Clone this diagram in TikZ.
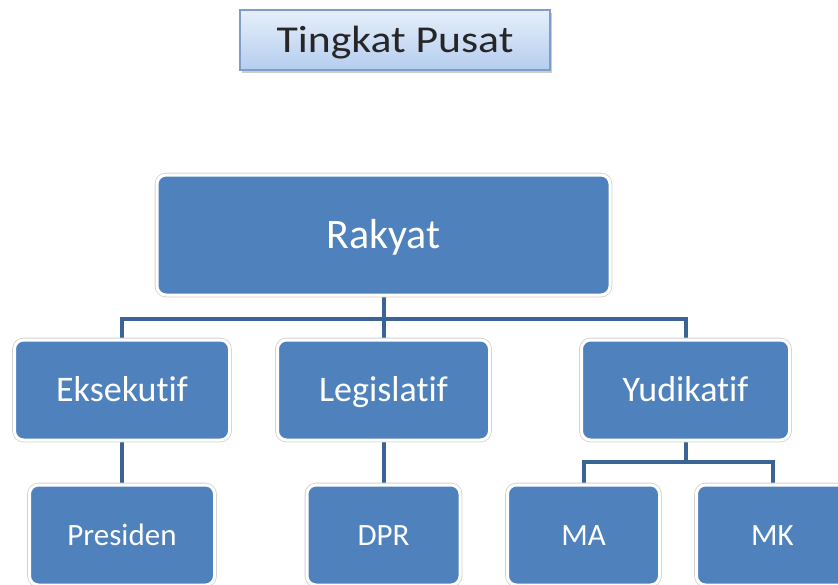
\documentclass[tikz,border=0pt]{standalone}
\usepackage{fontspec}
\setmainfont{Carlito}[Ligatures=NoCommon]
\usetikzlibrary{positioning, backgrounds, shadows}
\definecolor{boxblue}{HTML}{4F81BD}
\definecolor{linkblue}{HTML}{3B6496}
\definecolor{titletop}{HTML}{E6EFFB}
\definecolor{titlebottom}{HTML}{B5CDEE}
\definecolor{titleedge}{HTML}{7F9DC9}
\tikzset{
  titlebox/.style={rectangle, draw=titleedge, line width=1.2pt, top color=titletop, bottom color=titlebottom,
    drop shadow={shadow xshift=2pt, shadow yshift=-2.5pt, opacity=0.4}, text=black!85,
    minimum width=310pt, minimum height=60pt, inner sep=0pt, outer sep=0pt,
    text height=24pt, text depth=0pt},
  orgbox/.style={rectangle, rounded corners=9pt, fill=boxblue, draw=white, line width=3pt,
    preaction={draw=black!18, line width=4.6pt}, text=white, inner sep=0pt, outer sep=0pt,
    text depth=0pt},
  headbox/.style={orgbox, minimum width=#1, minimum height=100pt, text height=23pt,
    font=\fontsize{36}{42}\selectfont},
  leafbox/.style={orgbox, minimum width=#1, minimum height=100pt, text height=20pt,
    font=\fontsize{31}{37}\selectfont},
  link/.style={draw=linkblue, line width=4pt},
}

\begin{document}
\begin{tikzpicture}[x=1pt, y=1pt]
  \useasboundingbox (0,0) rectangle (838,-584);
  % title
  \node[titlebox, font=\fontsize{38}{44}\selectfont] (title) at (395,-40) {\scalebox{1.15}[1]{Tingkat Pusat}};
  % chart
  \node[orgbox, minimum width=453pt, minimum height=120pt, text height=27pt,
    font=\fontsize{42}{50}\selectfont] (rakyat) at (383.5,-235) {Rakyat};
  \node[headbox=212pt] (legislatif) [below=45pt of rakyat] {Legislatif};
  \node[headbox=215pt] (eksekutif) [left=48pt of legislatif] {Eksekutif};
  \node[headbox=208pt] (yudikatif) [right=92pt of legislatif] {Yudikatif};
  \node[leafbox=185pt] (presiden) [below=45pt of eksekutif] {Presiden};
  \node[leafbox=153pt] (dpr) [below=45pt of legislatif] {DPR};
  \node[leafbox=152pt] (ma) [below=45pt of yudikatif, xshift=-102pt] {MA};
  \node[leafbox=152pt] (mk) [right=37pt of ma] {MK};
  \begin{scope}[on background layer]
    \draw[link] (rakyat.south) -- ++(0,-24) -| (eksekutif.north);
    \draw[link] (rakyat.south) -- (legislatif.north);
    \draw[link] (rakyat.south) -- ++(0,-24) -| (yudikatif.north);
    \draw[link] (eksekutif.south) -- (presiden.north);
    \draw[link] (legislatif.south) -- (dpr.north);
    \draw[link] (yudikatif.south) -- ++(0,-22) -| (ma.north);
    \draw[link] (yudikatif.south) -- ++(0,-22) -| (mk.north);
  \end{scope}
\end{tikzpicture}
\end{document}
